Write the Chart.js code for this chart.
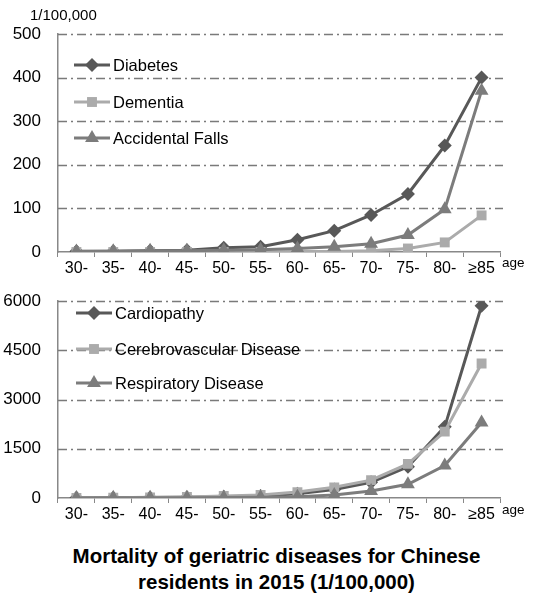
<!DOCTYPE html>
<html>
<head>
<meta charset="utf-8">
<script src="https://cdn.jsdelivr.net/npm/chart.js@4/dist/chart.umd.min.js"></script>
<style>
  html, body { margin: 0; padding: 0; background: #fff; }
  body { width: 553px; height: 597px; font-family: "Liberation Sans", Arial, sans-serif; }
  .box { position: relative; width: 553px; }
  #top { height: 282px; }
  #bottom { height: 248px; }
  canvas { display: block; }
  #title { text-align: center; font-weight: bold; font-size: 20.5px; line-height: 26px; color: #000; margin-top: 13px; }
</style>
</head>
<body>
<div class="box" id="top"><canvas id="c1" width="553" height="282"></canvas></div>
<div class="box" id="bottom"><canvas id="c2" width="553" height="248"></canvas></div>
<div id="title">Mortality of geriatric diseases for Chinese<br>residents in 2015 (1/100,000)</div>
<script>
// age groups shared by both panels
const ages = ['30-', '35-', '40-', '45-', '50-', '55-', '60-', '65-', '70-', '75-', '80-', '≥85'];

// top panel
const diabetes = [2, 2, 3, 4, 10, 12, 28, 49, 85, 133, 244, 400];
const dementia = [0, 0, 0, 0, 0, 0, 1, 1, 3, 8, 22, 84];
const falls = [1, 2, 3, 3, 4, 5, 8, 12, 19, 39, 98, 370];

// bottom panel
const cardiopathy = [5, 8, 12, 20, 40, 60, 130, 260, 480, 950, 2170, 5860];
const cerebro = [5, 10, 20, 30, 60, 90, 180, 325, 545, 1040, 2025, 4100];
const respiratory = [2, 4, 6, 10, 15, 25, 40, 90, 215, 420, 990, 2300];

const DARK = '#585858', LIGHT = '#ababab', MID = '#7c7c7c';
const FONT = '"Liberation Sans", Arial, sans-serif';

function series(label, data, color, style, radius, order) {
  return {
    label, data,
    borderColor: color, backgroundColor: color,
    borderWidth: 3, pointStyle: style, pointRadius: radius,
    pointBorderWidth: 0, order, tension: 0
  };
}

// legend drawn inside the plot: line sample with a marker, then the name
const innerLegend = {
  id: 'innerLegend',
  afterDraw(chart, args, opts) {
    const ctx = chart.ctx;
    ctx.save();
    chart.data.datasets.forEach((ds, i) => {
      const y = opts.y[i];
      ctx.strokeStyle = ds.borderColor;
      ctx.lineWidth = 3;
      ctx.beginPath();
      ctx.moveTo(opts.x0, y);
      ctx.lineTo(opts.x1, y);
      ctx.stroke();
      ctx.fillStyle = ds.backgroundColor;
      Chart.helpers.drawPoint(ctx, { pointStyle: ds.pointStyle, radius: ds.pointRadius, rotation: 0, borderWidth: 0 },
        (opts.x0 + opts.x1) / 2, y);
      ctx.fillStyle = '#000';
      ctx.font = '16.5px ' + FONT;
      ctx.textBaseline = 'middle';
      ctx.fillText(ds.label, opts.x1 + 3, y + 1);
    });
    ctx.restore();
  }
};

// dash-dot horizontal gridlines drawn behind the data
const dashGrid = {
  id: 'dashGrid',
  beforeDatasetsDraw(chart) {
    const { ctx, chartArea: a, scales: { y } } = chart;
    ctx.save();
    ctx.strokeStyle = '#7a7a7a';
    ctx.lineWidth = 1.5;
    ctx.setLineDash([9, 4, 2, 4]);
    y.ticks.forEach(t => {
      if (t.value === 0) return;
      const py = Math.round(y.getPixelForValue(t.value)) + 0.5;
      ctx.beginPath();
      ctx.moveTo(a.left, py);
      ctx.lineTo(a.right + 3, py);
      ctx.stroke();
    });
    ctx.restore();
  }
};

// small extra texts: unit label and the "age" axis name
const extras = {
  id: 'extras',
  afterDraw(chart, args, opts) {
    const ctx = chart.ctx;
    ctx.save();
    ctx.fillStyle = '#000';
    ctx.textBaseline = 'middle';
    if (opts.unit) {
      ctx.font = '15px ' + FONT;
      ctx.fillText(opts.unit, 30, 16);
    }
    ctx.font = '13.5px ' + FONT;
    ctx.fillText('age', 502, opts.ageY);
    ctx.restore();
  }
};

function makeOptions(max, step, top, bottomH, legendOpts, extraOpts) {
  return {
    responsive: false,
    animation: false,
    layout: { padding: { top, right: 53, left: 0, bottom: 0 } },
    plugins: {
      legend: { display: false },
      tooltip: { enabled: false },
      innerLegend: legendOpts,
      extras: extraOpts
    },
    scales: {
      x: {
        type: 'category',
        offset: true,
        afterFit: s => { s.height = bottomH; },
        grid: { display: true, drawOnChartArea: false, drawTicks: true, tickLength: 5, offset: true, color: '#888' },
        border: { color: '#888', width: 1.5 },
        ticks: { color: '#000', font: { family: FONT, size: 16 }, padding: 2, maxRotation: 0 }
      },
      y: {
        min: 0, max,
        afterFit: s => { s.width = 58; },
        ticks: { stepSize: step, color: '#000', font: { family: FONT, size: 17 }, padding: 9, callback: v => String(v) },
        grid: { display: false },
        border: { color: '#888', width: 1.5 }
      }
    }
  };
}

new Chart(document.getElementById('c1'), {
  type: 'line',
  data: {
    labels: ages,
    datasets: [
      series('Diabetes', diabetes, DARK, 'rectRot', 7, 3),
      series('Dementia', dementia, LIGHT, 'rect', 7, 2),
      series('Accidental Falls', falls, MID, 'triangle', 8, 1)
    ]
  },
  options: makeOptions(500, 100, 34, 30,
    { x0: 74, x1: 110, y: [65, 102, 138] }, { unit: '1/100,000', ageY: 263 }),
  plugins: [dashGrid, innerLegend, extras]
});

new Chart(document.getElementById('c2'), {
  type: 'line',
  data: {
    labels: ages,
    datasets: [
      series('Cardiopathy', cardiopathy, DARK, 'rectRot', 7, 3),
      series('Cerebrovascular Disease', cerebro, LIGHT, 'rect', 7, 2),
      series('Respiratory Disease', respiratory, MID, 'triangle', 8, 1)
    ]
  },
  options: makeOptions(6000, 1500, 14, 32,
    { x0: 76, x1: 112, y: [31, 67, 101] }, { ageY: 228 }),
  plugins: [dashGrid, innerLegend, extras]
});
</script>
</body>
</html>
